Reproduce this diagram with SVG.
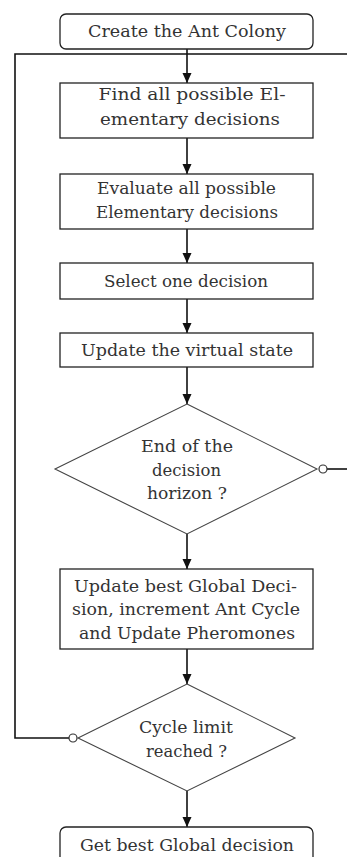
<svg xmlns="http://www.w3.org/2000/svg" width="347" height="857" viewBox="0 0 347 857">
<defs>
<marker id="ah" viewBox="0 0 10 10" refX="10" refY="5" markerWidth="10" markerHeight="10" markerUnits="userSpaceOnUse" orient="auto">
<path d="M0,0.5 L10,5 L0,9.5 z" fill="#111"/>
</marker>
<style>
.box{fill:#fff;stroke:#222;stroke-width:1.3}
.dia{fill:#fff;stroke:#444;stroke-width:1.1}
.t{font-family:"DejaVu Serif","Liberation Serif",serif;font-size:17.5px;fill:#333;text-anchor:middle}
.c{fill:none;stroke:#111;stroke-width:1.6}
.o{fill:#fff;stroke:#333;stroke-width:1.2}
</style>
</defs>
<rect width="347" height="857" fill="#fff"/>
<g id="connectors">
<polyline class="c" points="347,54 15,54 15,738 69,738"/>
<line class="c" x1="327" y1="469" x2="347" y2="469"/>
<line class="c" x1="187" y1="49" x2="187" y2="83" marker-end="url(#ah)"/>
<line class="c" x1="187" y1="138" x2="187" y2="174" marker-end="url(#ah)"/>
<line class="c" x1="187" y1="229" x2="187" y2="263" marker-end="url(#ah)"/>
<line class="c" x1="187" y1="299" x2="187" y2="333" marker-end="url(#ah)"/>
<line class="c" x1="187" y1="367" x2="187" y2="404" marker-end="url(#ah)"/>
<line class="c" x1="187" y1="534" x2="187" y2="569" marker-end="url(#ah)"/>
<line class="c" x1="187" y1="649" x2="187" y2="684" marker-end="url(#ah)"/>
<line class="c" x1="187" y1="791" x2="187" y2="827" marker-end="url(#ah)"/>
</g>
<g id="start">
<rect class="box" x="60" y="14" width="253" height="35" rx="6" stroke="#555"/>
<text class="t" x="187" y="37" textLength="198" lengthAdjust="spacingAndGlyphs">Create the Ant Colony</text>
</g>
<g id="find">
<rect class="box" x="60" y="83" width="253" height="55"/>
<text class="t" x="192" y="100" textLength="187" lengthAdjust="spacingAndGlyphs">Find all possible El-</text>
<text class="t" x="190" y="125" textLength="180" lengthAdjust="spacingAndGlyphs">ementary decisions</text>
</g>
<g id="evaluate">
<rect class="box" x="60" y="174" width="253" height="55"/>
<text class="t" x="186.5" y="194" textLength="179" lengthAdjust="spacingAndGlyphs">Evaluate all possible</text>
<text class="t" x="187" y="218" textLength="182" lengthAdjust="spacingAndGlyphs">Elementary decisions</text>
</g>
<g id="select">
<rect class="box" x="60" y="263" width="253" height="36"/>
<text class="t" x="186" y="287" textLength="164" lengthAdjust="spacingAndGlyphs">Select one decision</text>
</g>
<g id="update-state">
<rect class="box" x="60" y="333" width="253" height="34"/>
<text class="t" x="187" y="356" textLength="212" lengthAdjust="spacingAndGlyphs">Update the virtual state</text>
</g>
<g id="horizon">
<polygon class="dia" points="187,404 317,469 187,534 55,469"/>
<text class="t" x="187" y="452" textLength="92" lengthAdjust="spacingAndGlyphs">End of the</text>
<text class="t" x="186.5" y="476" textLength="69" lengthAdjust="spacingAndGlyphs">decision</text>
<text class="t" x="187" y="499" textLength="80" lengthAdjust="spacingAndGlyphs">horizon ?</text>
<circle class="o" cx="323" cy="469" r="4"/>
</g>
<g id="update-best">
<rect class="box" x="60" y="569" width="253" height="80"/>
<text class="t" x="185.5" y="592" textLength="223" lengthAdjust="spacingAndGlyphs">Update best Global Deci-</text>
<text class="t" x="186" y="615" textLength="228" lengthAdjust="spacingAndGlyphs">sion, increment Ant Cycle</text>
<text class="t" x="187" y="639" textLength="216" lengthAdjust="spacingAndGlyphs">and Update Pheromones</text>
</g>
<g id="cycle">
<polygon class="dia" points="187,684 295,738 187,791 78,738"/>
<text class="t" x="186" y="733" textLength="94" lengthAdjust="spacingAndGlyphs">Cycle limit</text>
<text class="t" x="186.5" y="757" textLength="81" lengthAdjust="spacingAndGlyphs">reached ?</text>
<circle class="o" cx="73" cy="738" r="4"/>
</g>
<g id="end">
<rect class="box" x="60" y="827" width="253" height="40" rx="6" stroke="#555"/>
<text class="t" x="187" y="851" textLength="214" lengthAdjust="spacingAndGlyphs">Get best Global decision</text>
</g>
</svg>
